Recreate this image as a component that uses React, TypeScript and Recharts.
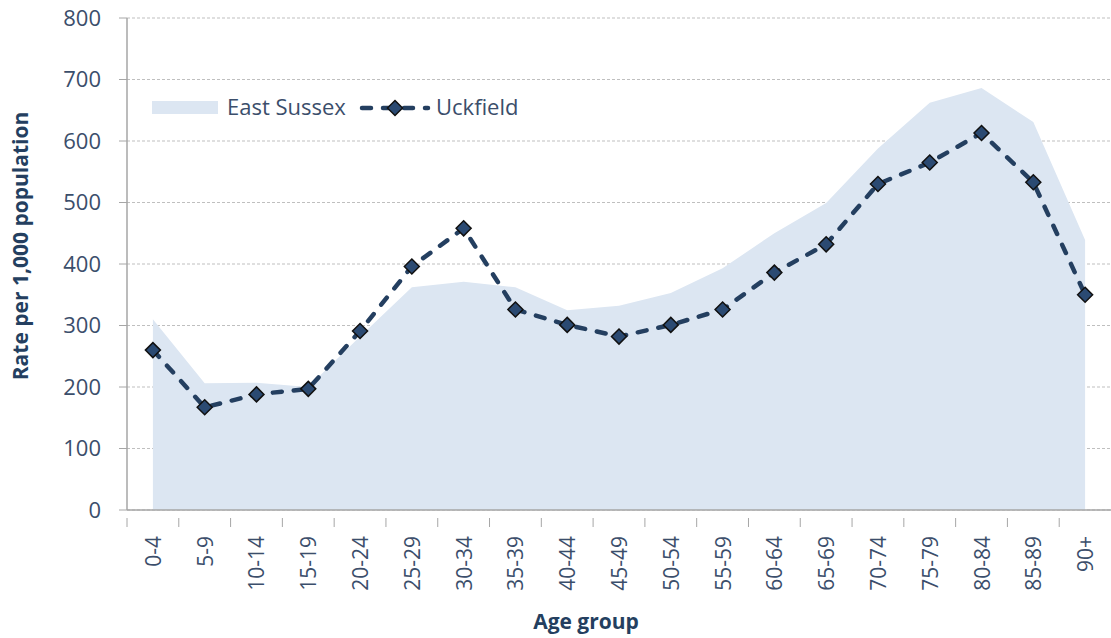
import React from 'react';
import { ComposedChart, Area, Line, XAxis, YAxis, CartesianGrid } from 'recharts';

const categories = ['0-4', '5-9', '10-14', '15-19', '20-24', '25-29', '30-34', '35-39', '40-44', '45-49', '50-54', '55-59', '60-64', '65-69', '70-74', '75-79', '80-84', '85-89', '90+'];
const eastSussex = [310, 206, 207, 200, 282, 362, 371, 362, 325, 332, 353, 393, 450, 499, 588, 662, 686, 631, 439];
const uckfield = [260, 167, 188, 197, 291, 396, 458, 326, 301, 282, 301, 326, 386, 432, 530, 565, 613, 533, 350];
const yTicks = [0, 100, 200, 300, 400, 500, 600, 700, 800];

const data = categories.map((c, i) => ({ age: c, eastSussex: eastSussex[i], uckfield: uckfield[i] }));

const FONT = '"Open Sans", sans-serif';
const TICK_COLOR = '#3B4E6B';
const TITLE_COLOR = '#243F60';
const LINE_COLOR = '#243F60';
const MARKER_FILL = '#2B4A72';
const AREA_FILL = '#DCE6F2';
const AXIS_COLOR = '#A6A6A6';

const W = 1111;
const H = 638;
const LEFT = 127;
const TOP = 18;
const XAXIS_H = 128;
const PLOT_W = W - LEFT;
const HALF_BAND = PLOT_W / categories.length / 2;

const Diamond = (props: any) => {
  const { cx, cy } = props;
  if (cx == null || cy == null) return null;
  const r = 7.5;
  return (
    <path
      d={`M${cx},${cy - r}L${cx + r},${cy}L${cx},${cy + r}L${cx - r},${cy}Z`}
      fill={MARKER_FILL}
      stroke="#111"
      strokeWidth={1.5}
    />
  );
};

const XTick = (props: any) => {
  const { x, y, payload } = props;
  const bx = x - HALF_BAND;
  return (
    <g>
      <line x1={bx} y1={y} x2={bx} y2={y + 9} stroke={AXIS_COLOR} strokeWidth={1} />
      <text
        x={x}
        y={y + 18}
        transform={`rotate(-90, ${x}, ${y + 18})`}
        textAnchor="end"
        dominantBaseline="central"
        fontFamily={FONT}
        fontSize={21}
        fill={TICK_COLOR}
      >
        {payload.value}
      </text>
    </g>
  );
};

export default function App() {
  return (
    <div style={{ position: 'absolute', left: 0, top: 0, width: W, height: H, background: '#fff' }}>
      <ComposedChart width={W} height={H} data={data} margin={{ top: TOP, right: 0, left: 0, bottom: 0 }}>
        <CartesianGrid vertical={false} stroke="#BFBFBF" strokeDasharray="3 2" />
        <XAxis
          dataKey="age"
          height={XAXIS_H}
          padding={{ left: HALF_BAND, right: HALF_BAND }}
          axisLine={{ stroke: AXIS_COLOR, strokeWidth: 1.5 }}
          tickLine={false}
          interval={0}
          tick={<XTick />}
          label={(p: any) => (
            <text x={586} y={621} textAnchor="middle" dominantBaseline="central" fontFamily={FONT} fontSize={21} fontWeight="bold" fill={TITLE_COLOR}>
              Age group
            </text>
          )}
        />
        <YAxis
          width={LEFT}
          domain={[0, 800]}
          ticks={yTicks}
          interval={0}
          axisLine={{ stroke: AXIS_COLOR, strokeWidth: 1.5 }}
          tickLine={{ stroke: AXIS_COLOR }}
          tickSize={8}
          tickMargin={18}
          tick={{ fontFamily: FONT, fontSize: 22, fill: TICK_COLOR }}
          label={(p: any) => (
            <text x={20} y={246} transform="rotate(-90, 20, 246)" textAnchor="middle" dominantBaseline="central" fontFamily={FONT} fontSize={21} fontWeight="bold" fill={TITLE_COLOR}>
              Rate per 1,000 population
            </text>
          )}
        />
        <Area
          type="linear"
          dataKey="eastSussex"
          fill={AREA_FILL}
          fillOpacity={1}
          stroke="none"
          isAnimationActive={false}
          dot={false}
          activeDot={false}
        />
        <Line
          type="linear"
          dataKey="uckfield"
          stroke={LINE_COLOR}
          strokeWidth={4.5}
          strokeDasharray="9 12"
          strokeLinecap="round"
          dot={<Diamond />}
          activeDot={false}
          isAnimationActive={false}
        />
      </ComposedChart>
      <svg width={W} height={H} style={{ position: 'absolute', left: 0, top: 0, pointerEvents: 'none' }}>
        <rect x={152} y={101} width={66} height={13} fill={AREA_FILL} />
        <text x={227} y={115} fontFamily={FONT} fontSize={22} fill={TICK_COLOR}>East Sussex</text>
        <line x1={362} y1={108} x2={428} y2={108} stroke={LINE_COLOR} strokeWidth={4.5} strokeDasharray="9 12" strokeLinecap="round" />
        <Diamond cx={395} cy={108} />
        <text x={436} y={115} fontFamily={FONT} fontSize={22} fill={TICK_COLOR}>Uckfield</text>
      </svg>
    </div>
  );
}
